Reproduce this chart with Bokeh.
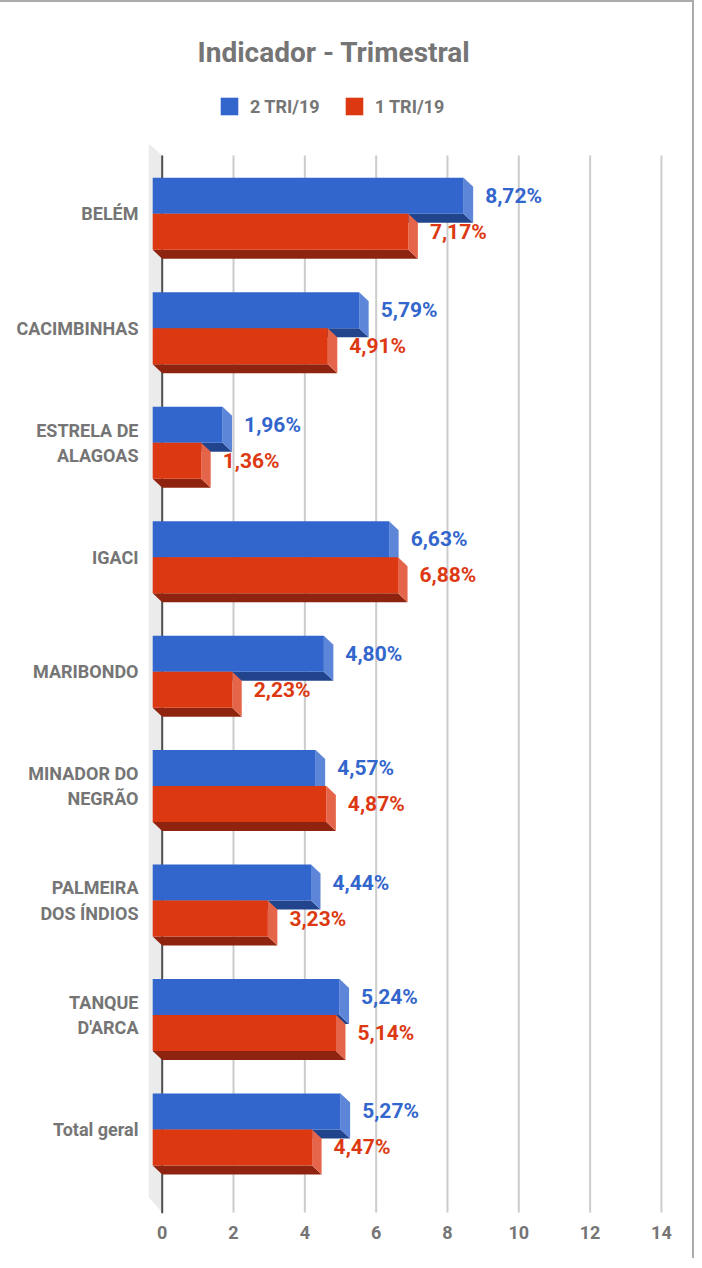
from bokeh.plotting import figure
from bokeh.models import Range1d, FixedTicker, ColumnDataSource, Legend, LegendItem
from bokeh.core.properties import value
from bokeh.embed import file_html
from bokeh.resources import INLINE

# ---------------- data ----------------
categories = ["BELÉM", "CACIMBINHAS", "ESTRELA DE\nALAGOAS", "IGACI", "MARIBONDO",
              "MINADOR DO\nNEGRÃO", "PALMEIRA\nDOS ÍNDIOS", "TANQUE\nD'ARCA", "Total geral"]
series_names = ["2 TRI/19", "1 TRI/19"]
tri2 = [8.72, 5.79, 1.96, 6.63, 4.80, 4.57, 4.44, 5.24, 5.27]
tri1 = [7.17, 4.91, 1.36, 6.88, 2.23, 4.87, 3.23, 5.14, 4.47]
x_ticks = [0, 2, 4, 6, 8, 10, 12, 14]

# ---------------- styling ----------------
GRAY = "#757575"
FONT = "Roboto"
BLUE = dict(front="#3366CC", side="#5D86D8", bottom="#22448C", text="#3366CC")
RED = dict(front="#DC3912", side="#E5654A", bottom="#8E2410", text="#DC3912")

W, H = 694, 1258
PX_X = 35.66          # pixels per x unit
PX_Y = 114.46         # pixels per category
DX = 9.5 / PX_X       # 3D depth (x)
DY = 9.0 / PX_Y       # 3D depth (y)
BH = 36.0 / PX_Y      # bar thickness

x0, x1 = -13.7 / PX_X, 532.3 / PX_X
y_frame_top, y_bot = -131.3 / PX_Y, 999.7 / PX_Y
wall_top = -70.3 / PX_Y
grid_top, grid_bot = -58.3 / PX_Y, 998.7 / PX_Y

p = figure(width=W, height=H, output_backend="svg", toolbar_location=None,
           x_range=Range1d(x0, x1), y_range=Range1d(y_bot, y_frame_top),
           min_border_left=148, min_border_right=0, min_border_top=80, min_border_bottom=47,
           title="Indicador -  Trimestral")
p.styles = {"border-right": "2px solid #ababab", "border-top": "2px solid #ababab"}
p.outline_line_color = None
p.background_fill_color = "white"
p.border_fill_color = "white"
p.xgrid.visible = False
p.ygrid.visible = False

p.title.text_font = FONT
p.title.text_font_size = "28px"
p.title.text_font_style = "bold"
p.title.text_color = GRAY
p.title.align = "left"
p.title.offset = 49
p.title.standoff = 27

# back wall
wall_xs = [[x0, 0, 0, x0]]
wall_ys = [[wall_top, grid_top, grid_bot, 985 / PX_Y - 0.015]]
p.patches(wall_xs, wall_ys, fill_color="#ebebeb", line_color=None)

# grid lines
gx = [t for t in x_ticks if t != 0]
p.segment(x0=gx, y0=[grid_top] * len(gx), x1=gx, y1=[grid_bot] * len(gx),
          line_color="#cccccc", line_width=2)
p.segment(x0=[0], y0=[grid_top], x1=[0], y1=[grid_bot + 1 / PX_Y], line_color="#4d4d4d", line_width=2)

legend_items = []
for k, (vals, col) in enumerate([(tri2, BLUE), (tri1, RED)]):
    tops = [i - BH + k * BH for i in range(len(vals))]
    bots = [t + BH for t in tops]
    bxs, bys, sxs, sys_ = [], [], [], []
    for v, t, b in zip(vals, tops, bots):
        bxs.append([-DX, v - DX, v, 0])
        bys.append([b, b, b + DY, b + DY])
        sxs.append([v - DX, v, v, v - DX])
        sys_.append([t, t + DY, b + DY, b])
    p.patches(bxs, bys, fill_color=col["bottom"], line_color=None)
    p.patches(sxs, sys_, fill_color=col["side"], line_color=None)
    src = ColumnDataSource(dict(left=[-DX] * len(vals), right=[v - DX for v in vals],
                                top=tops, bottom=bots))
    r = p.quad(left="left", right="right", top="top", bottom="bottom", source=src,
               fill_color=col["front"], line_color=None)
    legend_items.append(LegendItem(label=series_names[k], renderers=[r]))
    lab = ColumnDataSource(dict(x=vals, y=[(t + b) / 2 for t, b in zip(tops, bots)],
                                text=[f"{v:.2f}".replace(".", ",") + "%" for v in vals]))
    p.text(x="x", y="y", text="text", source=lab, x_offset=12, text_baseline="middle",
           text_align="left", text_font=value(FONT), text_font_style="bold",
           text_font_size="21px", text_color=col["text"])

legend = Legend(items=legend_items, orientation="horizontal", location=(70, 1096),
                glyph_width=22, glyph_height=22, label_standoff=10, spacing=23,
                padding=0, margin=0, border_line_color=None, background_fill_alpha=0,
                label_text_font=FONT, label_text_font_style="bold",
                label_text_font_size="18px", label_text_color=GRAY)
p.add_layout(legend, "center")

# axes
p.yaxis.ticker = FixedTicker(ticks=list(range(len(categories))))
p.yaxis.major_label_overrides = {i: c for i, c in enumerate(categories)}
p.yaxis.axis_line_color = None
p.yaxis.major_tick_line_color = None
p.yaxis.minor_tick_line_color = None
p.yaxis.major_tick_out = 0
p.yaxis.major_label_standoff = 10
p.yaxis.major_label_text_font = FONT
p.yaxis.major_label_text_font_style = "bold"
p.yaxis.major_label_text_font_size = "18px"
p.yaxis.major_label_text_color = GRAY

p.xaxis.ticker = FixedTicker(ticks=x_ticks)
p.xaxis.axis_line_color = None
p.xaxis.major_tick_line_color = None
p.xaxis.minor_tick_line_color = None
p.xaxis.major_tick_out = 0
p.xaxis.major_label_standoff = 12
p.xaxis.major_label_text_font = FONT
p.xaxis.major_label_text_font_style = "bold"
p.xaxis.major_label_text_font_size = "18px"
p.xaxis.major_label_text_color = GRAY

open("out.html", "w").write(file_html(p, INLINE))
